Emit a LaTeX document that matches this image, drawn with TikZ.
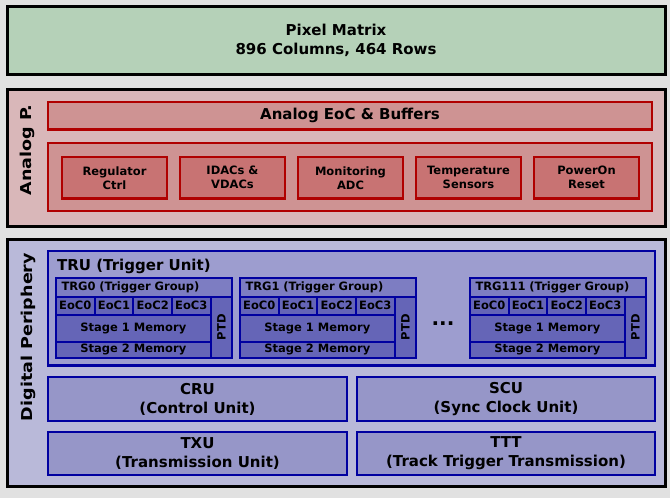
\documentclass[tikz,border=0pt]{standalone}
\usepackage{fontspec}
\setmainfont{DejaVu Sans}
\definecolor{bgc}{HTML}{E1E1E1}
\definecolor{pixfill}{HTML}{B5D1B8}
\definecolor{anafill}{HTML}{D9B7B9}
\definecolor{anamid}{HTML}{CE9393}
\definecolor{anain}{HTML}{C87373}
\definecolor{redln}{HTML}{B00000}
\definecolor{digfill}{HTML}{B9B9D9}
\definecolor{trufill}{HTML}{9D9DCF}
\definecolor{trgtitle}{HTML}{7D7DC2}
\definecolor{cellfill}{HTML}{6565B7}
\definecolor{unitfill}{HTML}{9696C8}
\definecolor{blueln}{HTML}{0000A0}
\tikzset{
  bigfont/.style={font=\fontsize{15}{19}\selectfont\bfseries},
  smallfont/.style={font=\fontsize{11.5}{14}\selectfont\bfseries},
  outerbox/.style={draw=black, line width=3pt, anchor=north west, inner sep=0pt, outer sep=0pt},
  redbox/.style={draw=redln, line width=2.5pt, anchor=north west, inner sep=0pt, outer sep=0pt, align=center},
  bluebox/.style={draw=blueln, line width=2.5pt, anchor=north west, inner sep=0pt, outer sep=0pt, align=center},
  cellbox/.style={draw=blueln, line width=2pt, anchor=north west, inner sep=0pt, outer sep=0pt, fill=cellfill, smallfont, align=center},
  sidelabel/.style={rotate=90, bigfont, inner sep=0pt}
}
\begin{document}
\begin{tikzpicture}[x=1pt,y=-1pt]
\fill[bgc] (0,0) rectangle (670,498);
\useasboundingbox (0,0) rectangle (670,498);

% Pixel matrix
\node[outerbox, fill=pixfill, minimum width=658pt, minimum height=68pt, bigfont, align=center] (pix) at (7,6) {Pixel Matrix\\896 Columns, 464 Rows};

% Analog periphery
\node[outerbox, fill=anafill, minimum width=658pt, minimum height=137pt] (ana) at (7,89) {};
\node[sidelabel] (analbl) at (27,150) {\scalebox{1.17}[1]{Analog P.}};
\node[redbox, fill=anamid, minimum width=604pt, minimum height=27.5pt, bigfont] (eocbuf) at (48,102) {Analog EoC \& Buffers};
\node[redbox, fill=anamid, minimum width=604pt, minimum height=68pt] (anacont) at (48,143) {};
\foreach \i/\x/\t in {reg/62/{Regulator\\Ctrl}, dac/180/{IDACs \&\\VDACs}, mon/298/{Monitoring\\ADC}, temp/416/{Temperature\\Sensors}, por/534/{PowerOn\\Reset}}
  \node[redbox, fill=anain, minimum width=105pt, minimum height=41.5pt, smallfont] (\i) at (\x,157) {\t};

% Digital periphery
\node[outerbox, fill=digfill, minimum width=658pt, minimum height=247pt] (dig) at (7,239) {};
\node[sidelabel] (diglbl) at (28,337) {\scalebox{1.17}[1]{Digital Periphery}};
\node[bluebox, fill=trufill, minimum width=607pt, minimum height=114.5pt] (tru) at (48,251) {};
\node[anchor=base west, bigfont, inner sep=0pt] (trutitle) at (57,270) {TRU (Trigger Unit)};

\foreach \o/\n in {0/0, 184/1, 414/111} {
  \begin{scope}[xshift=\o pt]
    \node[cellbox, fill=trgtitle, minimum width=176pt, minimum height=18.8pt, text width=165pt, align=left] (trg\n) at (56,277.7) {TRG\n\ (Trigger Group)};
    \node[cellbox, minimum width=38.67pt, minimum height=18.5pt] (e0\n) at (56,296.5) {EoC0};
    \node[cellbox, minimum width=38.67pt, minimum height=18.5pt] (e1\n) at (94.67,296.5) {EoC1};
    \node[cellbox, minimum width=38.67pt, minimum height=18.5pt] (e2\n) at (133.33,296.5) {EoC2};
    \node[cellbox, minimum width=38.67pt, minimum height=18.5pt] (e3\n) at (172,296.5) {EoC3};
    \node[cellbox, minimum width=154.67pt, minimum height=26.7pt] (s1\n) at (56,315) {Stage 1 Memory};
    \node[cellbox, minimum width=154.67pt, minimum height=16pt] (s2\n) at (56,341.7) {Stage 2 Memory};
    \node[cellbox, minimum width=21.33pt, minimum height=61.2pt] (ptd\n) at (210.67,296.5) {};
    \node[rotate=90, smallfont, inner sep=0pt] (ptdt\n) at (ptd\n.center) {PTD};
  \end{scope}
}
\node[font=\fontsize{20}{20}\selectfont\bfseries, inner sep=0pt, anchor=base] (dots) at (443,325) {...};

\node[bluebox, fill=unitfill, minimum width=299pt, minimum height=44pt, bigfont] (cru) at (48,377) {CRU\\(Control Unit)};
\node[bluebox, fill=unitfill, minimum width=298pt, minimum height=44pt, bigfont] (scu) at (357,377) {SCU\\(Sync Clock Unit)};
\node[bluebox, fill=unitfill, minimum width=299pt, minimum height=43pt, bigfont] (txu) at (48,432) {TXU\\(Transmission Unit)};
\node[bluebox, fill=unitfill, minimum width=298pt, minimum height=43pt, bigfont] (ttt) at (357,432) {TTT\\(Track Trigger Transmission)};
\end{tikzpicture}
\end{document}
